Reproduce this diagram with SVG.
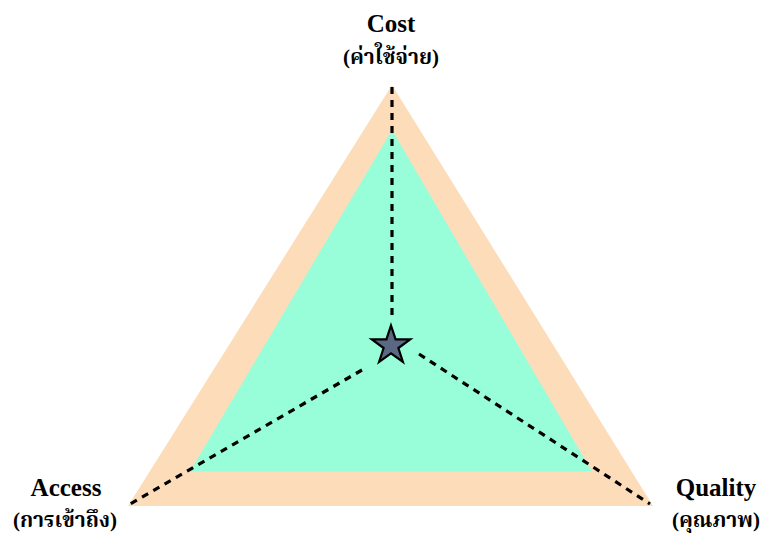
<svg xmlns="http://www.w3.org/2000/svg" width="763" height="533" viewBox="0 0 763 533">
<style>
.lbl{font-family:"Liberation Serif","Noto Serif Thai","Noto Sans Thai","DejaVu Serif",serif;font-weight:bold;font-size:25px;text-anchor:middle;fill:#000}
.th{font-size:21px}
.dash{stroke:#000;stroke-width:3.2;stroke-dasharray:7 6;fill:none}
</style>
<rect width="763" height="533" fill="#fff"/>
<g id="outer"><polygon points="392,85 128,506 653,506" fill="#FDDCBA"/></g>
<g id="inner"><polygon points="392,130 190,471.5 592,471.5" fill="#98FED9"/></g>
<g id="connectors">
<line class="dash" x1="392" y1="87" x2="392" y2="318"/>
<line class="dash" x1="362" y1="370" x2="130" y2="504"/>
<line class="dash" x1="419" y1="354" x2="650" y2="504"/>
</g>
<g id="star"><polygon points="391,325.5 395.6,339.4 410.2,339.4 398.4,348 402.9,361.9 391,353.3 379.1,361.9 383.6,348 371.8,339.4 386.4,339.4" fill="#5B6883" stroke="#000" stroke-width="2.2" stroke-linejoin="miter"/></g>
<g id="cost"><text class="lbl" x="391" y="32">Cost</text><text class="lbl th" x="391" y="64">(ค่าใช้จ่าย)</text></g>
<g id="access"><text class="lbl" x="66" y="496">Access</text><text class="lbl th" x="65" y="527">(การเข้าถึง)</text></g>
<g id="quality"><text class="lbl" x="716" y="496">Quality</text><text class="lbl th" x="716" y="527">(คุณภาพ)</text></g>
</svg>
